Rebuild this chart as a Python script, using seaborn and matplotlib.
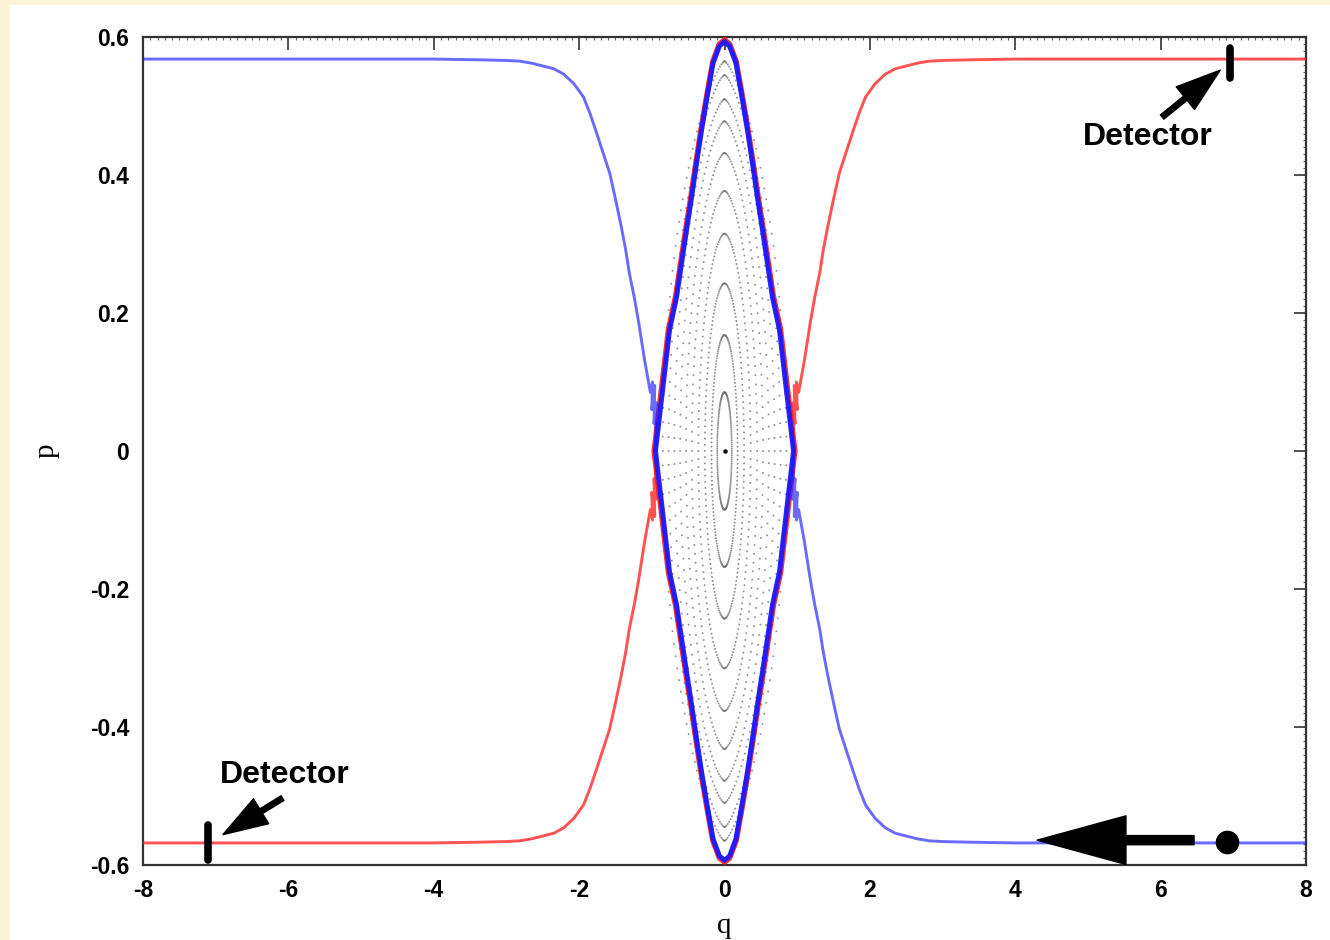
import numpy as np
import matplotlib
matplotlib.use("Agg")
import matplotlib.pyplot as plt
from matplotlib.patches import Rectangle
from matplotlib.ticker import MultipleLocator
import seaborn as sns

# ---- data -----------------------------------------------------------------
# Outgoing branch (q > 0, p > 0): plateau -> sigmoid descent -> hyperbolic point
branch_q = [8.0, 6.0, 4.0, 3.4, 3.0, 2.82, 2.65, 2.5, 2.35, 2.21, 2.07, 1.94,
            1.85, 1.76, 1.67, 1.58, 1.50, 1.42, 1.36, 1.31, 1.24, 1.18, 1.10,
            1.02, 0.99, 1.00, 0.96, 0.97, 0.94, 0.95]
branch_p = [0.568, 0.568, 0.568, 0.567, 0.566, 0.565, 0.562, 0.558, 0.554,
            0.546, 0.532, 0.513, 0.489, 0.461, 0.432, 0.403, 0.365, 0.325,
            0.292, 0.258, 0.222, 0.186, 0.132, 0.085, 0.100, 0.060, 0.095,
            0.040, 0.070, 0.0]

# Separatrix lens, upper-right quarter (q >= 0, p >= 0)
lens_q = [0.0, 0.07, 0.158, 0.24, 0.316, 0.385, 0.454, 0.523, 0.591, 0.660,
          0.757, 0.85, 0.95]
lens_p = [0.593, 0.587, 0.562, 0.513, 0.465, 0.417, 0.367, 0.320, 0.272,
          0.223, 0.175, 0.09, 0.0]

# Trapped orbits: half-width in q, half-height in p, shape exponent
orbit_a = [0.10, 0.18, 0.27, 0.36, 0.45, 0.53, 0.61, 0.69, 0.77, 0.85]
orbit_b = [0.085, 0.168, 0.243, 0.315, 0.377, 0.432, 0.478, 0.51, 0.545, 0.565]
orbit_e = [1.0, 1.05, 1.1, 1.15, 1.2, 1.25, 1.3, 1.35, 1.4, 1.45]

# Detectors, incoming particle and its direction arrow
detector_q = [6.96, -7.10]
detector_p_lo = [0.541, -0.593]
detector_p_hi = [0.584, -0.542]
particle_q, particle_p = 6.92, -0.567
push_from_q, push_to_q, push_p = 6.46, 4.30, -0.564

x_ticks = [-8, -6, -4, -2, 0, 2, 4, 6, 8]
x_tick_labels = ["-8", "-6", "-4", "-2", "0", "2", "4", "6", "8"]
y_ticks = [-0.6, -0.4, -0.2, 0.0, 0.2, 0.4, 0.6]
y_tick_labels = ["-0.6", "-0.4", "-0.2", "0", "0.2", "0.4", "0.6"]

# ---- style ----------------------------------------------------------------
sns.set_style("white")
plt.rcParams["font.family"] = ["Liberation Sans", "DejaVu Sans"]
plt.rcParams.update({"text.color": "black", "axes.labelcolor": "black",
                     "xtick.color": "black", "ytick.color": "black"})

W, H = 1330, 940
fig = plt.figure(figsize=(W / 100, H / 100), dpi=100)
fig.patch.set_facecolor("#fdf5d8")
fig.add_artist(Rectangle((10 / W, 0), 1, (H - 5) / H, transform=fig.transFigure,
                         facecolor="white", edgecolor="none", zorder=-10))
ax = fig.add_axes([143 / W, 75 / H, (1306 - 143) / W, (865 - 37) / H])
ax.set_facecolor("white")

bq = np.array(branch_q)
bp = np.array(branch_p)
lq = np.array(lens_q)
lp = np.array(lens_p)

# closed lens loop built from the measured quarter
loop_q = np.concatenate([lq, lq[::-1][1:], -lq[1:], -lq[::-1][1:]])
loop_p = np.concatenate([lp, -lp[::-1][1:], -lp[1:], lp[::-1][1:]])

# trapped orbits as sampled points (dense near the turning caps, sparse on the sides)
orb_rows = []
t = np.linspace(0, 2 * np.pi, 170, endpoint=False)
for a, b, e in zip(orbit_a, orbit_b, orbit_e):
    c = np.cos(t)
    orb_rows.append(np.column_stack([a * np.sign(c) * np.abs(c) ** e, b * np.sin(t)]))
orb = np.vstack(orb_rows)
sns.scatterplot(x=orb[:, 0], y=orb[:, 1], ax=ax, s=2.0, color="#707070",
                edgecolor="none", alpha=0.75, zorder=2, legend=False)
ax.plot([0], [0], "o", color="black", ms=2.2, zorder=2)

red, blue = "#ff1a1a", "#1a1aff"
line_kw = dict(sort=False, estimator=None, ax=ax)
# red: incoming from lower left, outgoing to upper right
sns.lineplot(x=-bq, y=-bp, color=red, lw=2.1, alpha=0.75, zorder=3, **line_kw)
sns.lineplot(x=bq, y=bp, color=red, lw=2.1, alpha=0.75, zorder=3, **line_kw)
sns.lineplot(x=loop_q * 1.02, y=loop_p * 1.005, color=red, lw=3.8, alpha=0.9,
             zorder=3, **line_kw)
# blue: incoming from lower right, outgoing to upper left
sns.lineplot(x=bq, y=-bp, color=blue, lw=2.1, alpha=0.65, zorder=4, **line_kw)
sns.lineplot(x=-bq, y=bp, color=blue, lw=2.1, alpha=0.65, zorder=4, **line_kw)
sns.lineplot(x=loop_q, y=loop_p, color=blue, lw=3.6, alpha=0.95, zorder=4, **line_kw)

# detectors
for dq, lo, hi in zip(detector_q, detector_p_lo, detector_p_hi):
    ax.plot([dq, dq], [lo, hi], color="black", lw=5.5, solid_capstyle="round", zorder=6)

arrow_small = dict(arrowstyle="simple,head_length=2.3,head_width=1.5,tail_width=0.28",
                   mutation_scale=14, color="black", shrinkA=0, shrinkB=0)
ax.annotate("", xy=(6.82, 0.552), xytext=(6.02, 0.484), arrowprops=arrow_small, zorder=6)
ax.annotate("", xy=(-6.90, -0.556), xytext=(-6.08, -0.503), arrowprops=arrow_small, zorder=6)
ax.text(5.82, 0.455, "Detector", ha="center", va="center", fontsize=23,
        fontweight="bold", color="black", zorder=6)
ax.text(-6.05, -0.47, "Detector", ha="center", va="center", fontsize=23,
        fontweight="bold", color="black", zorder=6)

# incoming particle
ax.annotate("", xy=(push_to_q, push_p), xytext=(push_from_q, push_p),
            arrowprops=dict(arrowstyle="simple,head_length=3.2,head_width=1.75,tail_width=0.33",
                            mutation_scale=20, color="black", shrinkA=0, shrinkB=0), zorder=6)
ax.plot([particle_q], [particle_p], "o", color="black", ms=16, zorder=6)

# axes
ax.set_xlim(-8, 8)
ax.set_ylim(-0.6, 0.6)
ax.set_xticks(x_ticks)
ax.set_xticklabels(x_tick_labels)
ax.set_yticks(y_ticks)
ax.set_yticklabels(y_tick_labels)
ax.xaxis.set_minor_locator(MultipleLocator(0.1))
ax.yaxis.set_minor_locator(MultipleLocator(0.01))
ax.tick_params(which="major", direction="in", length=9, width=1.1, color="#222222",
               labelcolor="black", top=True, right=True, labelsize=16.5, pad=10)
ax.tick_params(which="minor", direction="in", length=2, width=0.8, color="#666666",
               top=True, right=True)
for lab in ax.get_xticklabels() + ax.get_yticklabels():
    lab.set_fontweight("bold")
for s in ax.spines.values():
    s.set_color("#333333")
    s.set_linewidth(1.6)
    s.set_visible(True)

ax.set_xlabel("q", family="Liberation Serif", fontsize=21, labelpad=8, color="black")
ax.set_ylabel("p", family="Liberation Serif", fontsize=21, labelpad=22, color="black")

fig.savefig("out.png", dpi=100, facecolor=fig.get_facecolor())
